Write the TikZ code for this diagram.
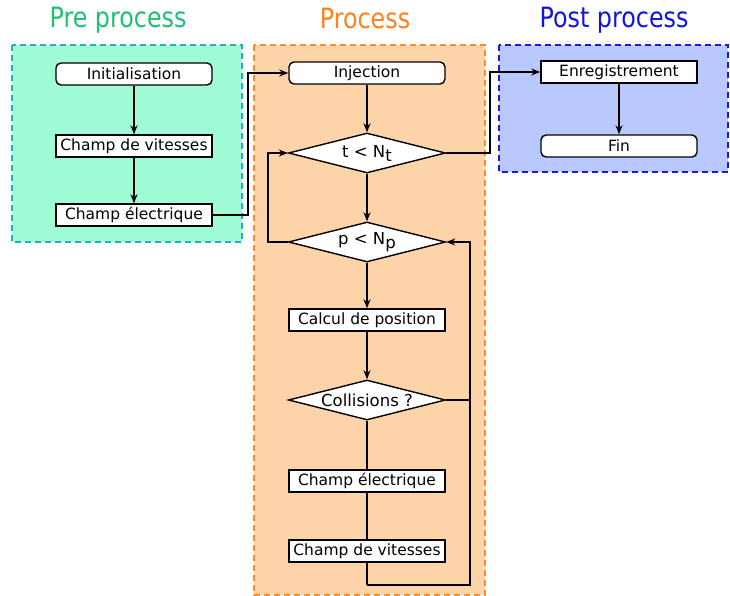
\documentclass[tikz,border=0pt]{standalone}
\usepackage{fontspec}
\setmainfont{DejaVu Sans}
\newfontfamily\titlefont[FakeStretch=0.85]{DejaVu Sans}
\usetikzlibrary{shapes.geometric,arrows.meta}
\definecolor{prefill}{RGB}{160,252,214}
\definecolor{preedge}{RGB}{30,180,180}
\definecolor{pretitle}{RGB}{30,192,115}
\definecolor{profill}{RGB}{253,212,170}
\definecolor{proedge}{RGB}{255,140,40}
\definecolor{protitle}{RGB}{255,128,32}
\definecolor{postfill}{RGB}{185,201,255}
\definecolor{postedge}{RGB}{25,25,230}
\definecolor{posttitle}{RGB}{20,20,225}
\tikzset{
  every node/.style={font=\fontsize{15.5}{17}\selectfont},
  stage/.style={dashed, dash pattern=on 6pt off 4pt, line width=1.3pt},
  titletext/.style={font=\titlefont\fontsize{28}{30}\selectfont},
  procbox/.style={draw, fill=white, line width=1.4pt, minimum width=156pt, minimum height=22pt, inner sep=0pt},
  termbox/.style={procbox, rounded corners=5pt},
  decbox/.style={draw, fill=white, diamond, aspect=3.9, line width=1.4pt, minimum width=157pt, minimum height=40pt, inner sep=0pt, font=\fontsize{16.5}{18}\selectfont},
  flow/.style={line width=1.4pt, -{Stealth[length=9pt,width=7pt]}},
  link/.style={line width=1.4pt}
}
\begin{document}
\begin{tikzpicture}[x=1pt,y=-1pt]
\useasboundingbox (0,0) rectangle (730,596);
% stage frames
\draw[stage, draw=preedge, fill=prefill] (12,45) rectangle (242,242);
\draw[stage, draw=proedge, fill=profill] (254,45) rectangle (485,595);
\draw[stage, draw=postedge, fill=postfill] (499,45) rectangle (728,172);
\node[titletext, text=pretitle] (tpre) at (118,20) {Pre process};
\node[titletext, text=protitle] (tpro) at (365,18) {Process};
\node[titletext, text=posttitle] (tpost) at (614,20) {Post process};
% pre process
\node[termbox] (init) at (134,74) {Initialisation};
\node[procbox] (cv1) at (134,146) {Champ de vitesses};
\node[procbox] (ce1) at (134,215) {Champ électrique};
% process
\node[termbox] (inj) at (367,73) {Injection};
\node[decbox] (dt) at (367,153) {t < N\raisebox{-4pt}{t}};
\node[decbox] (dp) at (367,242) {p < N\raisebox{-4pt}{p}};
\node[procbox] (calc) at (367,320) {Calcul de position};
\node[decbox] (coll) at (367,400) {Collisions ?};
\node[procbox] (ce2) at (367,481) {Champ électrique};
\node[procbox] (cv2) at (367,551) {Champ de vitesses};
% post process
\node[procbox] (enr) at (619,72) {Enregistrement};
\node[termbox] (fin) at (619,146) {Fin};
\coordinate (bot) at (367,585);
% connectors
\draw[flow] (init) -- (cv1);
\draw[flow] (cv1) -- (ce1);
\draw[flow] (ce1.east) -- (248,215) |- (inj.west);
\draw[flow] (inj) -- (dt);
\draw[flow] (dt) -- (dp);
\draw[flow] (dp.west) -- (268,242) |- (dt.west);
\draw[flow] (dt.east) -- (490,153) |- (enr.west);
\draw[flow] (enr) -- (fin);
\draw[flow] (dp) -- (calc);
\draw[flow] (calc) -- (coll);
\draw[link] (coll.east) -- (470,400);
\draw[link] (coll) -- (ce2);
\draw[link] (ce2) -- (cv2);
\draw[link] (cv2) -- (bot);
\draw[flow] (bot) -- (470,585) |- (dp.east);
\end{tikzpicture}
\end{document}
